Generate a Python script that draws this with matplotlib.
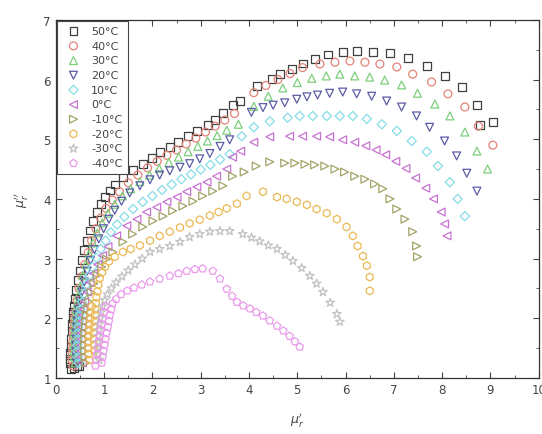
import matplotlib
matplotlib.use("Agg")
import matplotlib.pyplot as plt
from matplotlib.ticker import MultipleLocator

# Cole-Cole data (mu_r' , mu_r'')
labels = ["50°C", "40°C", "30°C", "20°C", "10°C", "0°C", "-10°C", "-20°C", "-30°C", "-40°C"]

x50 = [0.32, 0.38, 0.44, 0.48, 0.30, 0.29, 0.30, 0.31, 0.32, 0.33, 0.34, 0.35, 0.36, 0.37,
       0.39, 0.42, 0.46, 0.50, 0.54, 0.59, 0.64, 0.70, 0.77, 0.85, 0.93, 1.01, 1.12, 1.22,
       1.39, 1.59, 1.80, 1.99, 2.15, 2.36, 2.53, 2.73, 2.92, 3.15, 3.30, 3.46, 3.66, 3.81,
       4.16, 4.47, 4.64, 4.89, 5.11, 5.36, 5.63, 5.94, 6.23, 6.56, 6.92, 7.29, 7.68, 8.05,
       8.41, 8.72, 9.05, 8.78]
y50 = [1.15, 1.17, 1.19, 1.20, 1.25, 1.32, 1.42, 1.52, 1.65, 1.78, 1.90, 2.00, 2.10, 2.20,
       2.32, 2.48, 2.64, 2.80, 2.97, 3.14, 3.30, 3.47, 3.63, 3.78, 3.92, 4.03, 4.14, 4.24,
       4.36, 4.49, 4.59, 4.69, 4.78, 4.87, 4.95, 5.05, 5.14, 5.24, 5.32, 5.44, 5.58, 5.64,
       5.89, 6.01, 6.09, 6.18, 6.27, 6.34, 6.42, 6.46, 6.48, 6.46, 6.45, 6.36, 6.23, 6.06,
       5.87, 5.57, 5.29, 5.24]

x40 = [0.36, 0.34, 0.34, 0.35, 0.35, 0.36, 0.37, 0.38, 0.39, 0.41, 0.44, 0.48, 0.54, 0.60,
       0.67, 0.74, 0.83, 0.93, 1.04, 1.17, 1.32, 1.50, 1.70, 1.90, 2.10, 2.30, 2.50, 2.70,
       2.90, 3.10, 3.30, 3.50, 3.70, 4.10, 4.35, 4.60, 4.85, 5.11, 5.47, 5.78, 6.09, 6.40,
       6.71, 7.06, 7.39, 7.78, 8.12, 8.47, 8.75, 9.05]
y40 = [1.20, 1.30, 1.40, 1.50, 1.60, 1.70, 1.80, 1.90, 2.00, 2.10, 2.30, 2.50, 2.70, 2.90,
       3.10, 3.30, 3.50, 3.68, 3.84, 3.98, 4.12, 4.27, 4.40, 4.52, 4.63, 4.73, 4.82, 4.92,
       5.02, 5.12, 5.22, 5.32, 5.43, 5.78, 5.90, 6.00, 6.10, 6.20, 6.26, 6.29, 6.31, 6.29,
       6.26, 6.21, 6.09, 5.96, 5.76, 5.54, 5.22, 4.90]

x30 = [0.40, 0.38, 0.37, 0.37, 0.38, 0.38, 0.39, 0.40, 0.41, 0.42, 0.44, 0.47, 0.51, 0.56,
       0.62, 0.69, 0.77, 0.86, 0.96, 1.08, 1.22, 1.38, 1.55, 1.74, 1.94, 2.14, 2.34, 2.54,
       2.74, 2.94, 3.14, 3.34, 3.54, 3.78, 4.10, 4.40, 4.70, 5.00, 5.30, 5.60, 5.88, 6.19,
       6.50, 6.81, 7.16, 7.49, 7.85, 8.16, 8.47, 8.72, 8.94]
y30 = [1.25, 1.35, 1.45, 1.55, 1.65, 1.75, 1.85, 1.95, 2.05, 2.15, 2.25, 2.38, 2.54, 2.72,
       2.90, 3.08, 3.26, 3.43, 3.60, 3.76, 3.91, 4.05, 4.17, 4.29, 4.40, 4.51, 4.61, 4.70,
       4.79, 4.88, 4.97, 5.06, 5.15, 5.25, 5.55, 5.72, 5.86, 5.95, 6.02, 6.06, 6.09, 6.06,
       6.04, 5.99, 5.91, 5.77, 5.59, 5.39, 5.12, 4.80, 4.50]

x20 = [0.43, 0.42, 0.41, 0.41, 0.42, 0.42, 0.43, 0.44, 0.45, 0.47, 0.50, 0.54, 0.59, 0.65,
       0.72, 0.80, 0.89, 0.99, 1.10, 1.22, 1.36, 1.53, 1.74, 1.95, 2.15, 2.36, 2.57, 2.77,
       2.98, 3.19, 3.40, 3.60, 4.05, 4.29, 4.50, 4.74, 4.99, 5.20, 5.42, 5.67, 5.94, 6.23,
       6.54, 6.85, 7.16, 7.47, 7.74, 8.05, 8.30, 8.51, 8.72]
y20 = [1.25, 1.35, 1.45, 1.55, 1.65, 1.75, 1.85, 1.95, 2.05, 2.15, 2.28, 2.44, 2.61, 2.79,
       2.97, 3.15, 3.33, 3.50, 3.66, 3.81, 3.96, 4.10, 4.22, 4.32, 4.40, 4.47, 4.53, 4.59,
       4.67, 4.76, 4.88, 4.99, 5.45, 5.53, 5.57, 5.61, 5.67, 5.71, 5.74, 5.77, 5.79, 5.76,
       5.72, 5.64, 5.54, 5.39, 5.20, 4.97, 4.72, 4.43, 4.13]

x10 = [0.47, 0.46, 0.45, 0.45, 0.46, 0.46, 0.47, 0.48, 0.49, 0.51, 0.54, 0.58, 0.63, 0.69,
       0.76, 0.84, 0.93, 1.03, 1.14, 1.27, 1.42, 1.60, 1.80, 2.00, 2.20, 2.40, 2.60, 2.80,
       3.00, 3.20, 3.40, 3.60, 3.85, 4.10, 4.43, 4.80, 5.05, 5.32, 5.61, 5.88, 6.15, 6.44,
       6.75, 7.06, 7.37, 7.68, 7.91, 8.16, 8.32, 8.47]
y10 = [1.25, 1.35, 1.45, 1.55, 1.65, 1.75, 1.85, 1.95, 2.05, 2.15, 2.27, 2.41, 2.56, 2.71,
       2.86, 3.01, 3.16, 3.30, 3.44, 3.57, 3.70, 3.83, 3.95, 4.05, 4.15, 4.24, 4.33, 4.41,
       4.49, 4.57, 4.66, 4.75, 5.05, 5.20, 5.30, 5.36, 5.39, 5.39, 5.39, 5.39, 5.39, 5.34,
       5.25, 5.14, 4.97, 4.79, 4.55, 4.28, 4.00, 3.71]

x0 = [0.55, 0.53, 0.52, 0.52, 0.53, 0.53, 0.54, 0.55, 0.56, 0.57, 0.60, 0.65, 0.71, 0.78,
      0.87, 0.97, 1.08, 1.26, 1.47, 1.68, 1.88, 2.09, 2.30, 2.51, 2.71, 2.92, 3.13, 3.33,
      3.54, 3.66, 3.83, 4.10, 4.43, 4.84, 5.11, 5.40, 5.67, 5.94, 6.19, 6.42, 6.63, 6.83,
      7.04, 7.25, 7.45, 7.66, 7.82, 7.98, 8.05, 8.10]
y0 = [1.25, 1.35, 1.45, 1.55, 1.65, 1.75, 1.85, 1.95, 2.05, 2.15, 2.28, 2.44, 2.60, 2.75,
      2.90, 3.05, 3.20, 3.38, 3.55, 3.66, 3.78, 3.86, 3.95, 4.03, 4.12, 4.20, 4.28, 4.38,
      4.50, 4.70, 4.80, 4.95, 5.04, 5.05, 5.05, 5.05, 5.04, 4.99, 4.95, 4.89, 4.82, 4.74,
      4.63, 4.51, 4.35, 4.18, 4.00, 3.78, 3.58, 3.38]

xm10 = [0.62, 0.60, 0.59, 0.59, 0.60, 0.60, 0.61, 0.62, 0.63, 0.65, 0.68, 0.73, 0.79, 0.86,
        0.95, 1.05, 1.18, 1.39, 1.59, 1.80, 2.01, 2.22, 2.42, 2.63, 2.84, 3.04, 3.25, 3.46,
        3.66, 3.90, 4.15, 4.43, 4.74, 4.95, 5.16, 5.36, 5.57, 5.78, 5.98, 6.19, 6.40, 6.60,
        6.77, 6.92, 7.06, 7.23, 7.39, 7.47, 7.49]
ym10 = [1.25, 1.35, 1.45, 1.55, 1.65, 1.75, 1.85, 1.95, 2.05, 2.15, 2.28, 2.43, 2.58, 2.72,
        2.86, 2.99, 3.11, 3.28, 3.41, 3.53, 3.63, 3.71, 3.80, 3.88, 3.96, 4.05, 4.13, 4.22,
        4.38, 4.45, 4.55, 4.62, 4.60, 4.60, 4.58, 4.57, 4.55, 4.50, 4.45, 4.38, 4.33, 4.25,
        4.17, 4.00, 3.83, 3.66, 3.45, 3.21, 3.03]

xm20 = [0.70, 0.68, 0.67, 0.67, 0.68, 0.69, 0.70, 0.71, 0.72, 0.74,
        0.80, 0.79, 0.78, 0.78, 0.79, 0.80, 0.81, 0.82, 0.83, 0.84,
        0.86, 0.88, 0.91, 0.96, 1.02, 1.10, 1.22, 1.39, 1.55, 1.74, 1.95, 2.15, 2.36, 2.57,
        2.77, 2.98, 3.19, 3.37, 3.54, 3.75, 3.95, 4.29, 4.58, 4.78, 4.99, 5.20, 5.40, 5.61,
        5.82, 6.02, 6.15, 6.25, 6.36, 6.44, 6.50, 6.50]
ym20 = [1.30, 1.40, 1.50, 1.60, 1.70, 1.80, 1.90, 2.00, 2.10, 2.20,
        1.45, 1.55, 1.65, 1.75, 1.85, 1.95, 2.05, 2.15, 2.25, 2.35,
        2.45, 2.56, 2.67, 2.77, 2.86, 2.95, 3.03, 3.11, 3.16, 3.22, 3.30, 3.38, 3.45, 3.52,
        3.59, 3.65, 3.72, 3.78, 3.84, 3.92, 4.05, 4.12, 4.03, 4.00, 3.95, 3.90, 3.83, 3.76,
        3.66, 3.53, 3.38, 3.21, 3.04, 2.88, 2.69, 2.46]

xm30 = [0.90, 0.88, 0.87, 0.87, 0.88, 0.89, 0.90, 0.92, 0.94, 0.97, 1.01, 1.07, 1.15, 1.25,
        1.37, 1.50, 1.64, 1.79, 1.95, 2.15, 2.36, 2.57, 2.77, 2.98, 3.19, 3.40, 3.60, 3.87,
        4.05, 4.22, 4.40, 4.58, 4.75, 4.91, 5.09, 5.26, 5.40, 5.53, 5.68, 5.82, 5.88]
ym30 = [1.30, 1.40, 1.50, 1.60, 1.70, 1.80, 1.90, 2.00, 2.10, 2.20, 2.30, 2.40, 2.50, 2.60,
        2.70, 2.80, 2.90, 3.00, 3.11, 3.16, 3.21, 3.28, 3.36, 3.41, 3.45, 3.46, 3.46, 3.41,
        3.35, 3.29, 3.22, 3.16, 3.06, 2.96, 2.84, 2.71, 2.58, 2.44, 2.26, 2.07, 1.94]

xm40 = [0.82, 0.83, 0.85, 0.87, 0.89, 0.91, 0.93, 0.95, 0.97, 1.00, 1.03,
        0.95, 0.97, 0.99, 1.01, 1.03, 1.05, 1.08, 1.10, 1.12, 1.15, 1.18,
        1.25, 1.35, 1.48, 1.62, 1.78, 1.95, 2.15, 2.36, 2.54, 2.71, 2.88, 3.04, 3.25, 3.40,
        3.54, 3.65, 3.75, 3.88, 4.02, 4.15, 4.29, 4.43, 4.58, 4.71, 4.84, 4.95, 5.05]
ym40 = [1.20, 1.30, 1.40, 1.50, 1.60, 1.70, 1.80, 1.90, 2.00, 2.10, 2.20,
        1.25, 1.35, 1.45, 1.55, 1.65, 1.75, 1.85, 1.95, 2.05, 2.15, 2.25,
        2.32, 2.40, 2.46, 2.51, 2.56, 2.61, 2.66, 2.71, 2.75, 2.79, 2.82, 2.83, 2.79, 2.66,
        2.49, 2.37, 2.27, 2.21, 2.16, 2.10, 2.04, 1.96, 1.87, 1.79, 1.70, 1.61, 1.52]

xs = [x50, x40, x30, x20, x10, x0, xm10, xm20, xm30, xm40]
ys = [y50, y40, y30, y20, y10, y0, ym10, ym20, ym30, ym40]

markers = ['s', 'o', '^', 'v', 'D', '<', '>', 'h', '*', 'p']
colors = ['#404040', '#e58278', '#7bcf7b', '#5c5ca6', '#86dde8',
          '#c873d2', '#a3a366', '#ebb955', '#c2c2c2', '#ea9cea']
sizes = [32, 32, 32, 32, 22, 32, 32, 32, 42, 32]

fig = plt.figure(figsize=(5.42, 4.35), dpi=100)
ax = fig.add_axes([0.103, 0.129, 0.891, 0.823])

for x, y, m, c, s, lab in zip(xs, ys, markers, colors, sizes, labels):
    ax.scatter(x, y, marker=m, s=s, facecolors='none', edgecolors=c,
               linewidths=0.9, label=lab)

ax.set_xlim(0, 10)
ax.set_ylim(1, 7)
ax.xaxis.set_major_locator(MultipleLocator(1))
ax.xaxis.set_minor_locator(MultipleLocator(0.5))
ax.yaxis.set_major_locator(MultipleLocator(1))
ax.yaxis.set_minor_locator(MultipleLocator(0.5))
ax.tick_params(which='both', direction='in', top=True, right=True,
               colors='#444444', labelsize=8.5)
ax.tick_params(which='major', length=4)
ax.tick_params(which='minor', length=2)
for sp in ax.spines.values():
    sp.set_color('#333333')
    sp.set_linewidth(0.9)

ax.set_xlabel(r"$\mu_r'$", fontsize=9, color='#444444', labelpad=10)
ax.set_ylabel(r"$\mu_r''$", fontsize=9, color='#444444', labelpad=10)

leg = ax.legend(loc='upper left', bbox_to_anchor=(0.002, 0.998), borderaxespad=0,
                fontsize=8, labelspacing=0.42, handletextpad=0.6, handlelength=2.0,
                borderpad=0.5, fancybox=False, framealpha=1, edgecolor='#444444')
leg.get_frame().set_linewidth(0.8)
for t in leg.get_texts():
    t.set_color('#444444')

fig.savefig("out.png", dpi=100)
